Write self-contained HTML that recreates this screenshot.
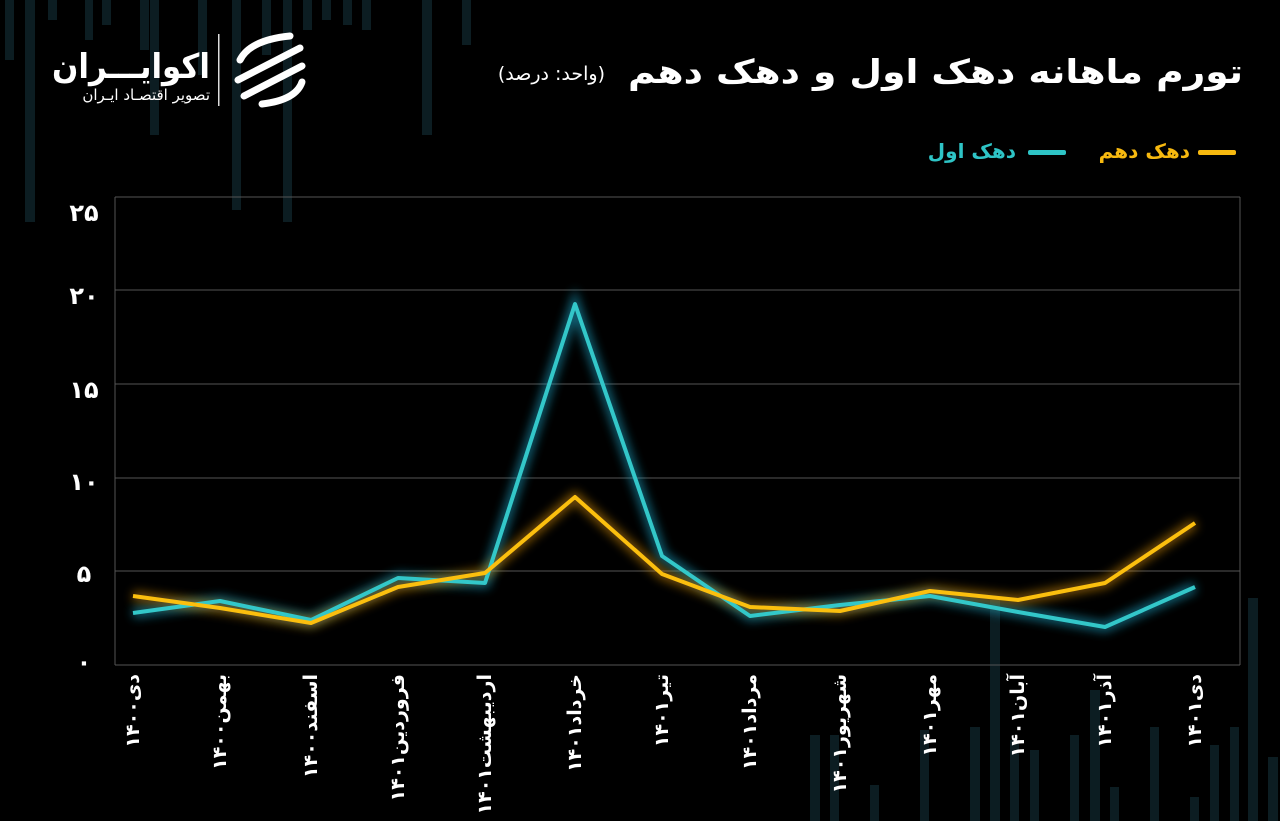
<!DOCTYPE html>
<html><head><meta charset="utf-8"><style>
body{margin:0;background:#000;width:1280px;height:821px;overflow:hidden}
svg{display:block}
</style></head><body>
<svg width="1280" height="821" xmlns="http://www.w3.org/2000/svg" font-family="'DejaVu Sans', sans-serif">
<defs>
<filter id="g" x="-20%" y="-20%" width="140%" height="140%"><feGaussianBlur stdDeviation="5"/></filter>
</defs>
<rect width="1280" height="821" fill="#000"/>
<g fill="#0c1d22">
<rect x="5" y="0" width="9" height="60"/><rect x="25" y="0" width="10" height="222"/><rect x="48" y="0" width="9" height="20"/>
<rect x="85" y="0" width="8" height="40"/><rect x="102" y="0" width="9" height="25"/><rect x="140" y="0" width="9" height="50"/>
<rect x="150" y="0" width="9" height="135"/><rect x="198" y="0" width="9" height="75"/><rect x="232" y="0" width="9" height="210"/>
<rect x="262" y="0" width="9" height="55"/><rect x="283" y="0" width="9" height="222"/><rect x="303" y="0" width="9" height="30"/>
<rect x="322" y="0" width="9" height="20"/><rect x="343" y="0" width="9" height="25"/><rect x="362" y="0" width="9" height="30"/>
<rect x="422" y="0" width="10" height="135"/><rect x="462" y="0" width="9" height="45"/>
<rect x="990" y="600" width="10" height="221"/><rect x="1010" y="740" width="9" height="81"/><rect x="1030" y="750" width="9" height="71"/>
<rect x="810" y="735" width="10" height="86"/><rect x="830" y="735" width="9" height="86"/><rect x="870" y="785" width="9" height="36"/>
<rect x="920" y="730" width="9" height="91"/><rect x="970" y="727" width="10" height="94"/><rect x="1070" y="735" width="9" height="86"/>
<rect x="1090" y="690" width="10" height="131"/><rect x="1110" y="787" width="9" height="34"/><rect x="1150" y="727" width="9" height="94"/>
<rect x="1190" y="797" width="9" height="24"/><rect x="1210" y="745" width="9" height="76"/><rect x="1230" y="727" width="9" height="94"/>
<rect x="1248" y="598" width="10" height="223"/><rect x="1268" y="757" width="10" height="64"/>
</g>
<!-- logo -->
<text x="210" y="78" fill="#fff" font-size="34" font-weight="bold" text-anchor="start" direction="rtl" textLength="158" lengthAdjust="spacingAndGlyphs">اکوایـــران</text>
<text x="210" y="100" fill="#fff" font-size="15" text-anchor="start" direction="rtl">تصویر اقتصـاد ایـران</text>
<rect x="218" y="34" width="1.5" height="72" fill="#ddd"/>
<g stroke="#fff" stroke-width="7" stroke-linecap="round" fill="none">
<path d="M240 60 Q250 40 290 36"/><path d="M238 80 L300 48"/><path d="M244 96 L302 66"/><path d="M262 104 Q296 100 302 82"/>
</g>
<!-- title -->
<text x="1243" y="83" fill="#fff" font-size="33" font-weight="bold" text-anchor="start" direction="rtl" textLength="615" lengthAdjust="spacingAndGlyphs">تورم ماهانه دهک اول و دهک دهم</text>
<text x="605" y="80" fill="#fff" font-size="19" text-anchor="start" direction="rtl">(واحد: درصد)</text>
<!-- legend -->
<rect x="1198" y="150" width="38" height="5" rx="2" fill="#f7b90f"/>
<text x="1190" y="158" fill="#f7b90f" font-size="20" font-weight="bold" text-anchor="start" direction="rtl">دهک دهم</text>
<rect x="1028" y="150" width="38" height="5" rx="2" fill="#2ec4c6"/>
<text x="1016" y="158" fill="#2ec4c6" font-size="20" font-weight="bold" text-anchor="start" direction="rtl">دهک اول</text>
<!-- grid -->
<g stroke="#555" stroke-width="1">
<line x1="115" y1="197" x2="1240" y2="197"/><line x1="115" y1="290" x2="1240" y2="290"/>
<line x1="115" y1="384" x2="1240" y2="384"/><line x1="115" y1="478" x2="1240" y2="478"/>
<line x1="115" y1="571" x2="1240" y2="571"/><line x1="115" y1="665" x2="1240" y2="665"/>
<line x1="115" y1="197" x2="115" y2="665"/><line x1="1240" y1="197" x2="1240" y2="665"/>
</g>
<g fill="#fff" font-size="24" font-weight="bold" text-anchor="middle">
<text x="84" y="221">۲۵</text><text x="84" y="304">۲۰</text><text x="84" y="398">۱۵</text>
<text x="84" y="490">۱۰</text><text x="84" y="582">۵</text><text x="84" y="670">۰</text>
</g>
<!-- series -->
<polyline points="133,613 220,601 311,620 398,578 485,583 575,304 662,556 750,616 840,605 930,596 1018,612 1105,627 1195,587" fill="none" stroke="#1fa6c8" stroke-width="10" opacity="0.6" filter="url(#g)"/>
<polyline points="133,596 220,608 311,623 398,587 485,573 575,497 662,574 750,607 840,611 930,591 1018,600 1105,583 1195,523" fill="none" stroke="#d08a10" stroke-width="10" opacity="0.6" filter="url(#g)"/>
<polyline points="133,613 220,601 311,620 398,578 485,583 575,304 662,556 750,616 840,605 930,596 1018,612 1105,627 1195,587" fill="none" stroke="#33c7c9" stroke-width="4" stroke-linejoin="round"/>
<polyline points="133,596 220,608 311,623 398,587 485,573 575,497 662,574 750,607 840,611 930,591 1018,600 1105,583 1195,523" fill="none" stroke="#fbbf0e" stroke-width="4" stroke-linejoin="round"/>
<!-- x labels -->
<g fill="#fff" font-size="19" font-weight="bold" text-anchor="end">
<text transform="translate(139,674) rotate(-90)">دی۱۴۰۰</text>
<text transform="translate(226,674) rotate(-90)">بهمن۱۴۰۰</text>
<text transform="translate(317,674) rotate(-90)">اسفند۱۴۰۰</text>
<text transform="translate(404,674) rotate(-90)">فروردین۱۴۰۱</text>
<text transform="translate(491,674) rotate(-90)">اردیبهشت۱۴۰۱</text>
<text transform="translate(581,674) rotate(-90)">خرداد۱۴۰۱</text>
<text transform="translate(668,674) rotate(-90)">تیر۱۴۰۱</text>
<text transform="translate(756,674) rotate(-90)">مرداد۱۴۰۱</text>
<text transform="translate(846,674) rotate(-90)">شهریور۱۴۰۱</text>
<text transform="translate(936,674) rotate(-90)">مهر۱۴۰۱</text>
<text transform="translate(1024,674) rotate(-90)">آبان۱۴۰۱</text>
<text transform="translate(1111,674) rotate(-90)">آذر۱۴۰۱</text>
<text transform="translate(1201,674) rotate(-90)">دی۱۴۰۱</text>
</g>
</svg>
</body></html>
